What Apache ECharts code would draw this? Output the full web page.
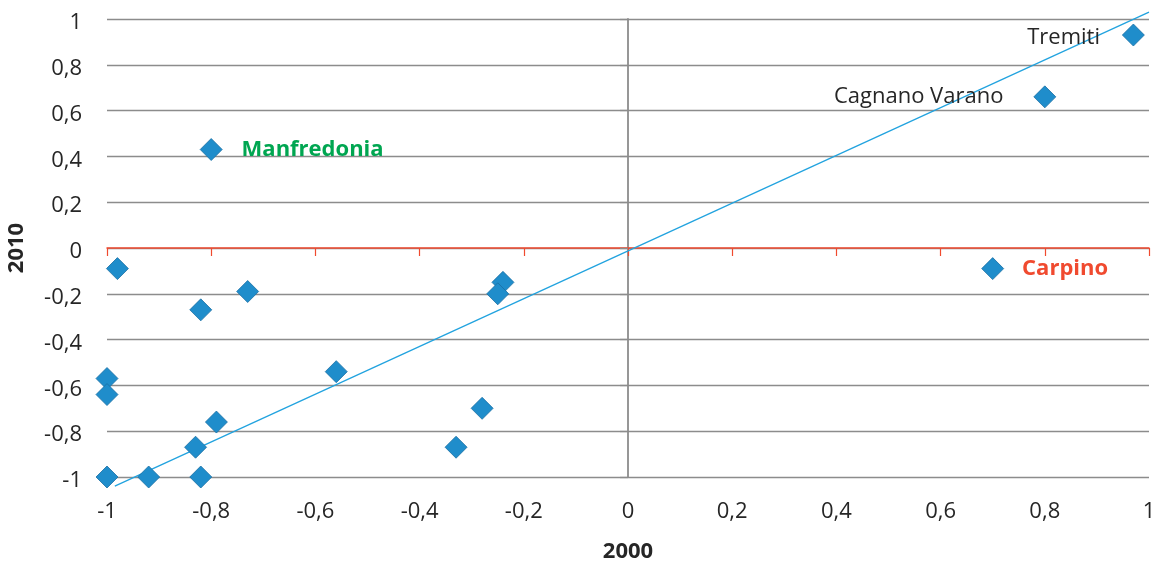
<!DOCTYPE html>
<html>
<head>
<meta charset="utf-8">
<script src="https://cdn.jsdelivr.net/npm/echarts@6/dist/echarts.min.js"></script>
<style>
html,body{margin:0;padding:0;background:#fff;}
#chart{width:1160px;height:567px;}
</style>
</head>
<body>
<div id="chart"></div>
<script>
// Data
const pointNames = ['Manfredonia', '', '', '', '', '', '', '', '', '', '', '', '', '', '', '', 'Tremiti', 'Cagnano Varano', 'Carpino'];
const x2000 = [-0.80, -0.98, -0.73, -0.82, -1.00, -1.00, -1.00, -0.92, -0.82, -0.83, -0.79, -0.56, -0.24, -0.25, -0.28, -0.33, 0.97, 0.80, 0.70];
const y2010 = [0.43, -0.09, -0.19, -0.27, -0.57, -0.64, -1.00, -1.00, -1.00, -0.87, -0.76, -0.54, -0.15, -0.20, -0.70, -0.87, 0.93, 0.66, -0.09];
const trendX = [-0.985, 1.0];
const trendY = [-1.04, 1.03];
const axisTicks = [-1, -0.8, -0.6, -0.4, -0.2, 0, 0.2, 0.4, 0.6, 0.8, 1];

// Label styles (kept apart from data)
const FONT = 'Open Sans';
const FS = 22;
const labelStyles = {
  'Manfredonia': { position: 'right', distance: 19, color: '#00a651', fontWeight: 'bold' },
  'Tremiti': { position: 'left', distance: 22, color: '#262626', fontWeight: 'normal', offset: [0, 3] },
  'Cagnano Varano': { position: 'left', distance: 30, color: '#262626', fontWeight: 'normal' },
  'Carpino': { position: 'right', distance: 18, color: '#f04a2f', fontWeight: 'bold' }
};

const fmt = v => String(Math.round(v * 10) / 10).replace('.', ',');

const scatterData = x2000.map((x, i) => {
  const name = pointNames[i];
  const item = { value: [x, y2010[i]], name: name };
  if (name && labelStyles[name]) {
    const s = labelStyles[name];
    item.label = {
      show: true,
      formatter: '{b}',
      position: s.position,
      distance: s.distance,
      color: s.color,
      fontWeight: s.fontWeight,
      fontFamily: FONT,
      fontSize: FS,
      offset: s.offset || [0, 0]
    };
  }
  return item;
});

const trendData = trendX.map((x, i) => [x, trendY[i]]);

const common = { type: 'value', min: axisTicks[0], max: axisTicks[axisTicks.length - 1], interval: 0.2 };

const chart = echarts.init(document.getElementById('chart'), null, { renderer: 'canvas' });
chart.setOption({
  animation: false,
  backgroundColor: '#ffffff',
  grid: { left: 107, right: 11, top: 19, bottom: 90, containLabel: false, outerBoundsMode: 'none' },
  xAxis: [
    Object.assign({}, common, {
      position: 'bottom',
      name: '2000',
      nameLocation: 'middle',
      nameGap: 64,
      nameTextStyle: { fontFamily: FONT, fontSize: FS, fontWeight: 'bold', color: '#262626' },
      axisLine: { show: false, onZero: false },
      axisTick: { show: false },
      splitLine: { show: false },
      axisLabel: { formatter: fmt, fontFamily: FONT, fontSize: FS, color: '#262626', margin: 24 }
    }),
    Object.assign({}, common, {
      position: 'bottom',
      axisLine: { show: true, onZero: true, onZeroAxisIndex: 0, lineStyle: { color: '#f04a2f', width: 1.5 } },
      axisTick: { show: true, inside: false, length: 8, lineStyle: { color: '#f04a2f', width: 1.2 } },
      splitLine: { show: false },
      axisLabel: { show: false }
    })
  ],
  yAxis: [
    Object.assign({}, common, {
      position: 'left',
      name: '2010',
      nameLocation: 'middle',
      nameGap: 79,
      nameRotate: 90,
      nameTextStyle: { fontFamily: FONT, fontSize: FS, fontWeight: 'bold', color: '#262626' },
      axisLine: { show: false, onZero: false },
      axisTick: { show: false },
      splitLine: { show: true, lineStyle: { color: '#8c8c8c', width: 1.3 } },
      axisLabel: { formatter: fmt, fontFamily: FONT, fontSize: FS, color: '#262626', margin: 25, verticalAlign: 'top', lineHeight: 8 }
    }),
    Object.assign({}, common, {
      position: 'left',
      axisLine: { show: true, onZero: true, onZeroAxisIndex: 0, lineStyle: { color: '#8c8c8c', width: 1.8 } },
      axisTick: { show: true, inside: false, length: 8, lineStyle: { color: '#8c8c8c', width: 1.3 } },
      splitLine: { show: false },
      axisLabel: { show: false }
    })
  ],
  series: [
    {
      type: 'line',
      xAxisIndex: 0,
      yAxisIndex: 0,
      data: trendData,
      symbol: 'none',
      clip: false,
      silent: true,
      lineStyle: { color: '#22a3df', width: 1.3 },
      z: 3
    },
    {
      type: 'scatter',
      xAxisIndex: 0,
      yAxisIndex: 0,
      data: scatterData,
      symbol: 'diamond',
      symbolSize: [22, 22],
      itemStyle: { color: '#1f8dcb', borderColor: '#1b6fa3', borderWidth: 0.8, opacity: 1 },
      label: { show: false },
      z: 4
    }
  ]
});
</script>
</body>
</html>
